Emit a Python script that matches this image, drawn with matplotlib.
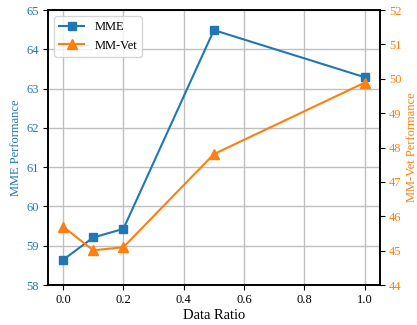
import matplotlib
matplotlib.use("Agg")
import matplotlib.pyplot as plt

plt.rcParams['font.family'] = ['Liberation Serif', 'DejaVu Serif']

ratios = [0.0, 0.1, 0.2, 0.5, 1.0]
mme = [58.64, 59.21, 59.43, 64.49, 63.29]
mmvet = [45.70, 45.01, 45.10, 47.81, 49.89]
blue = '#1f77b4'
orange = '#ff7f0e'

fig = plt.figure(figsize=(4.17, 3.25), dpi=100)
ax = fig.add_axes([0.115, 0.123, 0.796, 0.846])
ax2 = ax.twinx()

l1, = ax.plot(ratios, mme, color=blue, marker='s', markersize=6, linewidth=1.5, label='MME')
l2, = ax2.plot(ratios, mmvet, color=orange, marker='^', markersize=6.5, linewidth=1.5, label='MM-Vet')

ax.set_ylim(58, 65)
ax2.set_ylim(44, 52)
ax.set_xlim(-0.05, 1.05)
ax.set_xticks([0.0, 0.2, 0.4, 0.6, 0.8, 1.0])
ax.grid(True, color='#c0c0c0', linewidth=1)
ax.set_axisbelow(True)

ax.set_xlabel('Data Ratio', fontsize=10.5, labelpad=2)
ax.set_ylabel('MME Performance', color=blue, fontsize=9, labelpad=3)
ax2.set_ylabel('MM-Vet Performance', color=orange, fontsize=9, labelpad=3)
ax.tick_params(axis='y', colors=blue, labelsize=9, pad=3)
ax.tick_params(axis='x', labelsize=9, pad=3)
ax2.tick_params(axis='y', colors=orange, labelsize=9, pad=3)
for a in (ax, ax2):
    for s in a.spines.values():
        s.set_color('black')
        s.set_linewidth(1.2)
ax.tick_params(axis='both', which='both', color='black')
ax2.tick_params(axis='y', which='both', color='black')

ax.legend(handles=[l1, l2], loc='upper left', fontsize=9)

fig.savefig('out.png', dpi=100)
